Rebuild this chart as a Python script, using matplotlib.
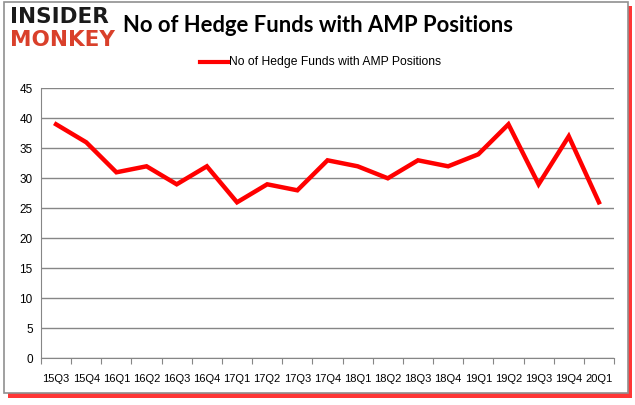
import matplotlib
matplotlib.use("Agg")
import matplotlib.pyplot as plt
from matplotlib.patches import Rectangle
from matplotlib.lines import Line2D

quarters = ["15Q3", "15Q4", "16Q1", "16Q2", "16Q3", "16Q4", "17Q1", "17Q2", "17Q3", "17Q4",
            "18Q1", "18Q2", "18Q3", "18Q4", "19Q1", "19Q2", "19Q3", "19Q4", "20Q1"]
funds = [39, 36, 31, 32, 29, 32, 26, 29, 28, 33, 32, 30, 33, 32, 34, 39, 29, 37, 26]
yticks = [0, 5, 10, 15, 20, 25, 30, 35, 40, 45]
series_name = "No of Hedge Funds with AMP Positions"
title = "No of Hedge Funds with AMP Positions"

W, H = 635, 405
fig = plt.figure(figsize=(W / 100, H / 100), dpi=100)
fig.patch.set_facecolor("white")

# frame with red shadow
fig.add_artist(Rectangle((8 / W, 1 - 398 / H), 624 / W, 392 / H, transform=fig.transFigure,
                         facecolor="#ff2020", edgecolor="none", alpha=0.9, zorder=0))
fig.add_artist(Rectangle((4 / W, 1 - 393 / H), 624 / W, 391 / H, transform=fig.transFigure,
                         facecolor="white", edgecolor="#909090", linewidth=1.2, zorder=0.5))

ax = fig.add_axes([41 / W, 1 - 358.3 / H, (614 - 41) / W, (358.3 - 88.3) / H])
ax.set_facecolor("none")
ax.set_zorder(2)
x = list(range(len(quarters)))
ax.plot(x, funds, color="#ff0000", linewidth=3.2, solid_joinstyle="miter", zorder=3)
ax.set_xlim(-0.5, len(quarters) - 0.5)
ax.set_ylim(0, 45)
ax.set_yticks(yticks)
ax.set_yticklabels([str(v) for v in yticks], fontsize=8.5, family="Liberation Sans")
ax.yaxis.grid(True, color="#868686", linewidth=1)
ax.set_axisbelow(True)
ax.tick_params(axis="y", length=0, pad=6)
ax.set_xticks([i - 0.5 for i in range(len(quarters) + 1)], minor=False)
ax.set_xticklabels([])
ax.set_xticks(x, minor=True)
ax.set_xticklabels(quarters, minor=True, fontsize=8, family="Liberation Sans")
ax.tick_params(axis="x", which="major", length=4, color="#868686", direction="out")
ax.tick_params(axis="x", which="minor", length=0, pad=11)
for s in ["top", "right"]:
    ax.spines[s].set_visible(False)
ax.spines["left"].set_color("#868686")
ax.spines["bottom"].set_color("#868686")

# title
fig.text(318 / W, 1 - 25 / H, title, fontsize=15.8, family="Lato", weight="bold",
         ha="center", va="center", color="black")

# legend
fig.add_artist(Line2D([200 / W, 228 / W], [1 - 61.5 / H, 1 - 61.5 / H], transform=fig.transFigure,
                      color="#ff0000", linewidth=3))
fig.text(229 / W, 1 - 61.5 / H, series_name, fontsize=8.7, family="Liberation Sans",
         ha="left", va="center", color="black")

# logo
fig.text(10 / W, 1 - 17 / H, "INSIDER", fontsize=15.5, family="DejaVu Sans", weight="bold",
         ha="left", va="center", color="#1a1a1a")
fig.text(10 / W, 1 - 40 / H, "MONKEY", fontsize=15.5, family="DejaVu Sans", weight="bold",
         ha="left", va="center", color="#d9402b")

fig.savefig("out.png", dpi=100)
